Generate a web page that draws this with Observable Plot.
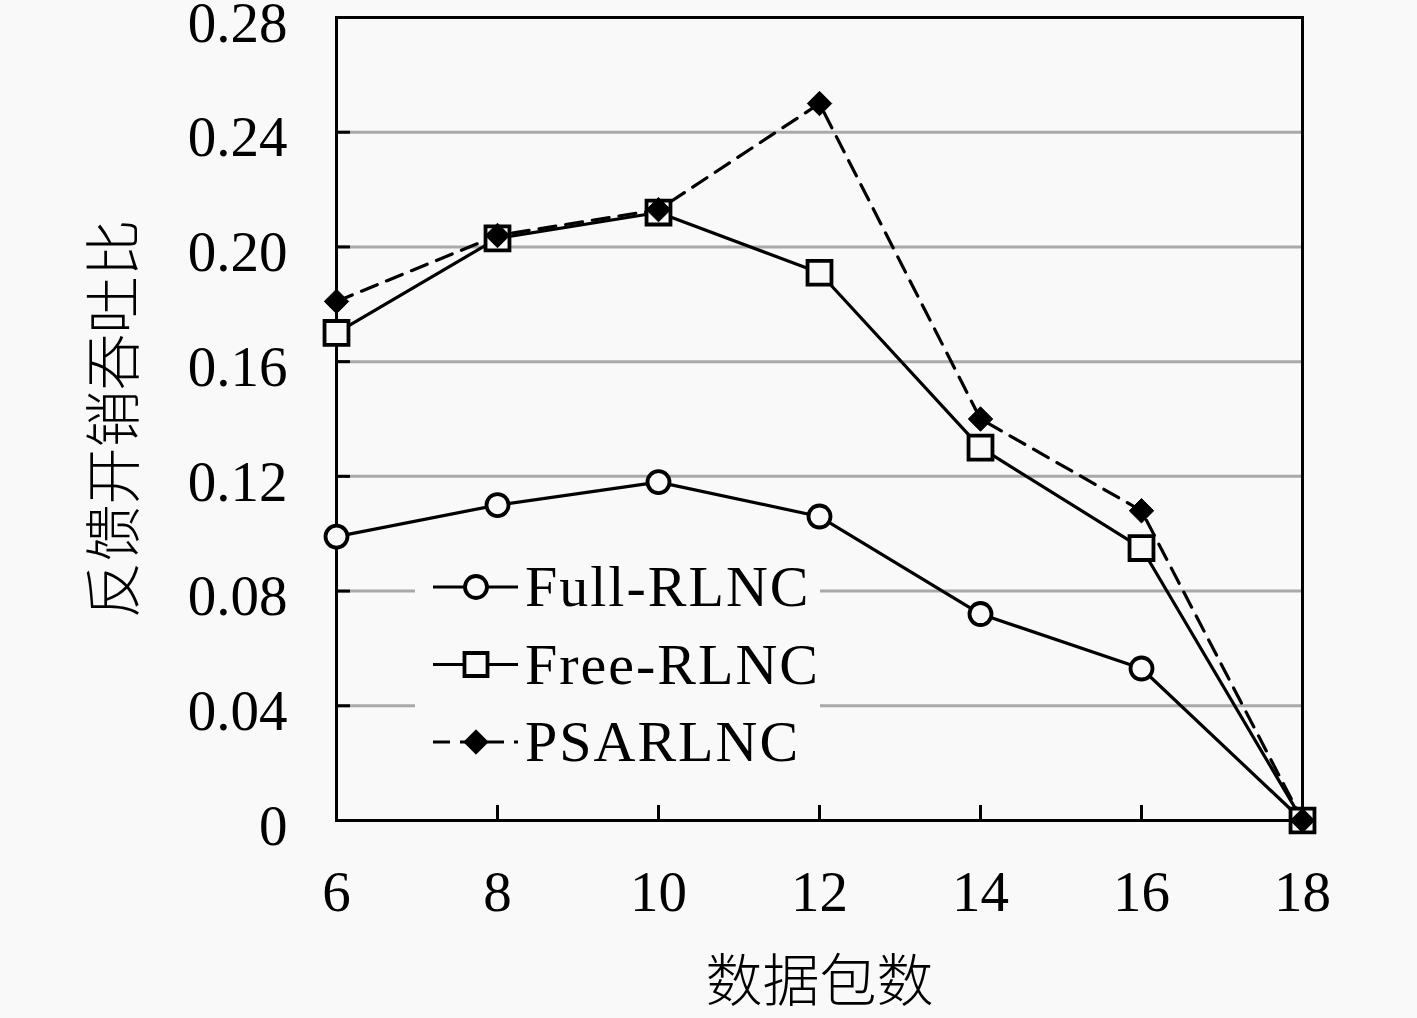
<!DOCTYPE html>
<html>
<head>
<meta charset="utf-8">
<script src="https://cdn.jsdelivr.net/npm/d3@7"></script>
<script src="https://cdn.jsdelivr.net/npm/@observablehq/plot@0.6"></script>
<style>
  html, body { margin: 0; padding: 0; background: #f9f9f9; }
  #wrap { position: relative; width: 1417px; height: 1018px; }
  #legend { position: absolute; left: 415px; top: 545px; }
</style>
</head>
<body>
<div id="wrap"><div id="legend"></div></div>
<script>
const packets = [6, 8, 10, 12, 14, 16, 18];
const fullRLNC = [0.099, 0.110, 0.118, 0.106, 0.072, 0.053, 0];
const freeRLNC = [0.170, 0.203, 0.212, 0.191, 0.130, 0.095, 0];
const psarlnc  = [0.181, 0.204, 0.213, 0.250, 0.140, 0.108, 0];
const seriesNames = ["Full-RLNC", "Free-RLNC", "PSARLNC"];
const xTicks = [6, 8, 10, 12, 14, 16, 18];
const yTicks = [0, 0.04, 0.08, 0.12, 0.16, 0.20, 0.24, 0.28];
const yTickLabels = ["0", "0.04", "0.08", "0.12", "0.16", "0.20", "0.24", "0.28"];
const yGrid = [0.04, 0.08, 0.12, 0.16, 0.20, 0.24];
const xTitle = "数据包数";
const yTitle = "反馈开销吞吐比";

const rows = (vals) => packets.map((p, i) => ({x: p, y: vals[i]}));
const full = rows(fullRLNC), free = rows(freeRLNC), psar = rows(psarlnc);

const serif = "'Liberation Serif', 'DejaVu Serif', serif";
const cjk = "'Noto Sans CJK SC', sans-serif";
const bg = "#f9f9f9";

const chart = Plot.plot({
  width: 1417, height: 1018,
  marginLeft: 336, marginRight: 115, marginTop: 17, marginBottom: 198,
  style: {background: bg, color: "black", fontFamily: serif, fontSize: "57px", overflow: "visible"},
  x: {domain: [6, 18]},
  y: {domain: [0, 0.28]},
  marks: [
    Plot.gridY(yGrid, {stroke: "#a9a9a9", strokeOpacity: 1, strokeWidth: 3}),
    Plot.gridY(yTicks, {stroke: "black", strokeOpacity: 1, strokeWidth: 3, insetRight: 952}),
    Plot.gridX(xTicks, {stroke: "black", strokeOpacity: 1, strokeWidth: 3, insetTop: 788}),
    Plot.axisY(yTicks, {tickSize: 0, tickPadding: 49, dy: 6, tickFormat: (d, i) => yTickLabels[i], label: null, fontSize: 57, fontFamily: serif, letterSpacing: "1px"}),
    Plot.axisX(xTicks, {tickSize: 0, tickPadding: 50, tickFormat: d => String(d), label: null, fontSize: 57, fontFamily: serif, letterSpacing: "1px"}),
    Plot.text([yTitle], {frameAnchor: "left", rotate: -90, dx: -221, text: d => d, fontFamily: cjk, fontSize: 57, fontWeight: 300, lineAnchor: "middle", textAnchor: "middle", fill: "black"}),
    Plot.text([xTitle], {frameAnchor: "bottom", dy: 162, text: d => d, fontFamily: cjk, fontSize: 57, fontWeight: 300, lineAnchor: "middle", textAnchor: "middle", fill: "black"}),
    Plot.frame({stroke: "black", strokeWidth: 3}),
    Plot.line(full, {x: "x", y: "y", stroke: "black", strokeWidth: 3.2}),
    Plot.line(free, {x: "x", y: "y", stroke: "black", strokeWidth: 3.2}),
    Plot.line(psar, {x: "x", y: "y", stroke: "black", strokeWidth: 3.2, strokeDasharray: "17,10"}),
    Plot.dot(full, {x: "x", y: "y", r: 11, symbol: "circle", stroke: "black", strokeWidth: 3.8, fill: bg}),
    Plot.dot(free, {x: "x", y: "y", r: 13.5, symbol: "square", stroke: "black", strokeWidth: 3.8, fill: bg}),
    Plot.dot(psar, {x: "x", y: "y", r: 11, symbol: "diamond2", stroke: "black", strokeWidth: 1, fill: "black"})
  ]
});
document.getElementById("wrap").prepend(chart);

// Legend
const lg = d3.select("#legend").append("svg")
  .attr("width", 405).attr("height", 230)
  .style("background", bg).style("display", "block");
const legendSymbols = [d3.symbolCircle, d3.symbolSquare, d3.symbolDiamond2];
const legendSizes = [Math.PI * 11 * 11, Math.PI * 13 * 13, Math.PI * 11 * 11];
const legendFills = [bg, bg, "black"];
const legendDash = [null, null, "17,10"];
seriesNames.forEach((name, i) => {
  const cy = 42 + i * 77.5;
  const g = lg.append("g").attr("transform", `translate(0,${cy})`);
  g.append("line").attr("x1", 18).attr("x2", 103).attr("y1", 0).attr("y2", 0)
    .attr("stroke", "black").attr("stroke-width", 3.2)
    .attr("stroke-dasharray", legendDash[i]);
  g.append("path").attr("transform", "translate(61,0)")
    .attr("d", d3.symbol(legendSymbols[i], legendSizes[i])())
    .attr("fill", legendFills[i]).attr("stroke", "black")
    .attr("stroke-width", i === 2 ? 1 : 3.8);
  g.append("text").attr("x", 110).attr("y", 19)
    .attr("font-family", serif).attr("font-size", 58)
    .attr("letter-spacing", "2px")
    .attr("fill", "black").text(name);
});
</script>
</body>
</html>
